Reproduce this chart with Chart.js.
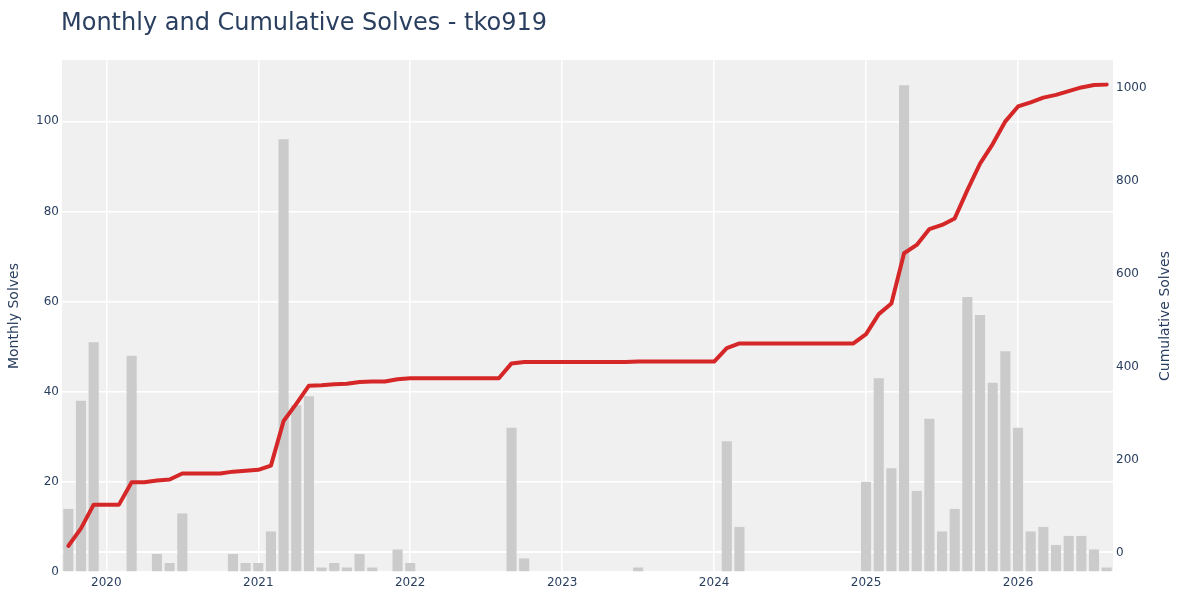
<!DOCTYPE html>
<html>
<head>
<meta charset="utf-8">
<title>Monthly and Cumulative Solves - tko919</title>
<script src="https://cdn.jsdelivr.net/npm/chart.js@4.4.1/dist/chart.umd.min.js"></script>
<style>
  html, body { margin: 0; padding: 0; background: #fff; }
</style>
</head>
<body>
<canvas id="solves-chart" width="1200" height="600"></canvas>
<script>
// month categories (Oct 2019 .. Aug 2026)
var months = [
  "2019-10", "2019-11", "2019-12",
  "2020-01", "2020-02", "2020-03", "2020-04", "2020-05", "2020-06", "2020-07", "2020-08", "2020-09", "2020-10", "2020-11", "2020-12",
  "2021-01", "2021-02", "2021-03", "2021-04", "2021-05", "2021-06", "2021-07", "2021-08", "2021-09", "2021-10", "2021-11", "2021-12",
  "2022-01", "2022-02", "2022-03", "2022-04", "2022-05", "2022-06", "2022-07", "2022-08", "2022-09", "2022-10", "2022-11", "2022-12",
  "2023-01", "2023-02", "2023-03", "2023-04", "2023-05", "2023-06", "2023-07", "2023-08", "2023-09", "2023-10", "2023-11", "2023-12",
  "2024-01", "2024-02", "2024-03", "2024-04", "2024-05", "2024-06", "2024-07", "2024-08", "2024-09", "2024-10", "2024-11", "2024-12",
  "2025-01", "2025-02", "2025-03", "2025-04", "2025-05", "2025-06", "2025-07", "2025-08", "2025-09", "2025-10", "2025-11", "2025-12",
  "2026-01", "2026-02", "2026-03", "2026-04", "2026-05", "2026-06", "2026-07", "2026-08"
];

var monthlySolves = [
  14, 38, 51,
  0, 0, 48, 0, 4, 2, 13, 0, 0, 0, 4, 2,
  2, 9, 96, 37, 39, 1, 2, 1, 4, 1, 0, 5,
  2, 0, 0, 0, 0, 0, 0, 0, 32, 3, 0, 0,
  0, 0, 0, 0, 0, 0, 1, 0, 0, 0, 0, 0,
  0, 29, 10, 0, 0, 0, 0, 0, 0, 0, 0, 0,
  20, 43, 23, 108, 18, 34, 9, 14, 61, 57, 42, 49,
  32, 9, 10, 6, 8, 8, 5, 1
];

var cumulativeSolves = [
  14, 52, 103,
  103, 103, 151, 151, 155, 157, 170, 170, 170, 170, 174, 176,
  178, 187, 283, 320, 359, 360, 362, 363, 367, 368, 368, 373,
  375, 375, 375, 375, 375, 375, 375, 375, 407, 410, 410, 410,
  410, 410, 410, 410, 410, 410, 411, 411, 411, 411, 411, 411,
  411, 440, 450, 450, 450, 450, 450, 450, 450, 450, 450, 450,
  470, 513, 536, 644, 662, 696, 705, 719, 780, 837, 879, 928,
  960, 969, 979, 985, 993, 1001, 1006, 1007
];

var leftTicks = [0, 20, 40, 60, 80, 100];
var rightTicks = [0, 200, 400, 600, 800, 1000];

var fontFam = '"DejaVu Sans", Verdana, sans-serif';
var textCol = '#2a3f5f';

// plot background, title and the right axis title (reads bottom-up)
var decoPlugin = {
  id: 'deco',
  beforeDraw: function(chart){
    var a = chart.chartArea, ctx = chart.ctx;
    ctx.save();
    ctx.fillStyle = '#f0f0f0';
    ctx.fillRect(a.left, a.top, a.right - a.left, a.bottom - a.top);
    ctx.restore();
  },
  afterDraw: function(chart){
    var a = chart.chartArea, ctx = chart.ctx;
    ctx.save();
    ctx.fillStyle = textCol;
    ctx.font = '24px ' + fontFam;
    ctx.textAlign = 'left';
    ctx.textBaseline = 'alphabetic';
    ctx.fillText('Monthly and Cumulative Solves - tko919', a.left - 1, 30);

    ctx.font = '14px ' + fontFam;
    ctx.translate(1165, (a.top + a.bottom) / 2);
    ctx.rotate(-Math.PI / 2);
    ctx.textAlign = 'center';
    ctx.textBaseline = 'middle';
    ctx.fillText('Cumulative Solves', 0, 0);
    ctx.restore();
  }
};

new Chart(document.getElementById("solves-chart"), {
  type: 'bar',
  plugins: [decoPlugin],
  data: {
    labels: months,
    datasets: [
      {
        type: 'line',
        label: 'Cumulative Solves',
        data: cumulativeSolves,
        yAxisID: 'y2',
        borderColor: '#d62728',
        borderWidth: 4,
        pointRadius: 0,
        tension: 0,
        borderJoinStyle: 'round',
        borderCapStyle: 'round',
        fill: false,
        order: 0
      },
      {
        type: 'bar',
        label: 'Monthly Solves',
        data: monthlySolves,
        yAxisID: 'y',
        backgroundColor: '#cbcbcb',
        borderWidth: 0,
        categoryPercentage: 0.8,
        barPercentage: 1.0,
        order: 1
      }
    ]
  },
  options: {
    responsive: false,
    devicePixelRatio: 1,
    animation: false,
    layout: { padding: { top: 60, left: 0, right: 0, bottom: 0 } },
    plugins: {
      legend: { display: false },
      tooltip: { enabled: false },
      title: { display: false }
    },
    scales: {
      x: {
        type: 'category',
        offset: true,
        border: { display: false },
        grid: {
          offset: false,
          drawTicks: false,
          lineWidth: 1.5,
          color: function(ctx){
            var lab = months[ctx.index];
            return (lab && lab.slice(5) === '01') ? '#ffffff' : 'rgba(0,0,0,0)';
          }
        },
        ticks: {
          autoSkip: false,
          maxRotation: 0,
          padding: 4,
          color: textCol,
          font: { family: fontFam, size: 12 },
          callback: function(val, i){
            var lab = months[i];
            return lab.slice(5) === '01' ? lab.slice(0, 4) : '';
          }
        },
        afterFit: function(scale){ scale.height = 28; }
      },
      y: {
        position: 'left',
        min: 0,
        max: 113.6,
        border: { display: false },
        grid: { color: '#ffffff', lineWidth: 1.5, drawTicks: false },
        ticks: {
          padding: 3,
          color: textCol,
          font: { family: fontFam, size: 12 },
          callback: function(v){ return String(v); }
        },
        afterBuildTicks: function(scale){
          scale.ticks = leftTicks.map(function(v){ return { value: v }; });
        },
        title: {
          display: true,
          text: 'Monthly Solves',
          color: textCol,
          font: { family: fontFam, size: 14 },
          padding: { top: 6, bottom: 0 }
        },
        afterFit: function(scale){ scale.width = 62; }
      },
      y2: {
        position: 'right',
        min: -42,
        max: 1060,
        border: { display: false },
        grid: {
          drawTicks: false,
          lineWidth: 2,
          color: function(ctx){
            return (ctx.tick && ctx.tick.value === 0) ? '#ffffff' : 'rgba(0,0,0,0)';
          }
        },
        ticks: {
          padding: 3,
          color: textCol,
          font: { family: fontFam, size: 12 },
          callback: function(v){ return String(v); }
        },
        afterBuildTicks: function(scale){
          scale.ticks = rightTicks.map(function(v){ return { value: v }; });
        },
        afterFit: function(scale){ scale.width = 87; }
      }
    }
  }
});
</script>
</body>
</html>
